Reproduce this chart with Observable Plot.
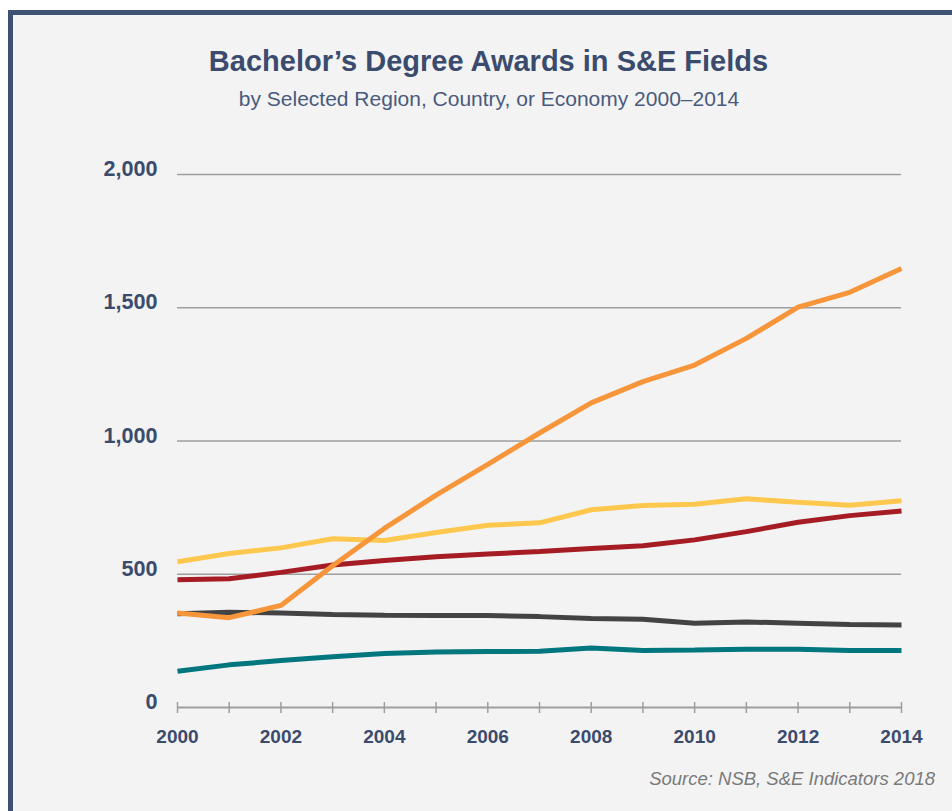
<!DOCTYPE html>
<html>
<head>
<meta charset="utf-8">
<script src="https://cdn.jsdelivr.net/npm/d3@7"></script>
<script src="https://cdn.jsdelivr.net/npm/@observablehq/plot@0.6"></script>
<style>
  html, body { margin: 0; padding: 0; background: #ffffff; width: 952px; height: 811px; overflow: hidden; font-family: "Liberation Sans", Arial, Helvetica, sans-serif; }
  #frame { position: absolute; left: 8px; top: 10px; width: 960px; height: 820px; background: #f3f3f3; border-left: 5px solid #3d5273; border-top: 5px solid #3d5273; }
  .t { position: absolute; white-space: nowrap; color: #3b4b6d; }
  #title { left: 0; width: 977px; top: 43px; text-align: center; font-weight: bold; font-size: 29px; line-height: 36px; }
  #subtitle { left: 0; width: 978px; top: 86px; text-align: center; font-size: 21px; line-height: 26px; color: #4a5a7c; }
  #source { right: 17px; top: 767px; font-style: italic; font-size: 18.5px; line-height: 24px; color: #7a7a7a; }
  #chart { position: absolute; left: 0; top: 0; }
</style>
</head>
<body>
<div id="frame"></div>
<div class="t" id="title">Bachelor’s Degree Awards in S&amp;E Fields</div>
<div class="t" id="subtitle">by Selected Region, Country, or Economy 2000–2014</div>
<div id="chart"></div>
<div class="t" id="source">Source: NSB, S&amp;E Indicators 2018</div>
<script>
// ---- data (thousands of degrees) ----
const years = [2000, 2001, 2002, 2003, 2004, 2005, 2006, 2007, 2008, 2009, 2010, 2011, 2012, 2013, 2014];
const xTickLabels = [2000, 2002, 2004, 2006, 2008, 2010, 2012, 2014];
const yTickValues = [0, 500, 1000, 1500, 2000];

const seriesNames = ["Teal", "Black", "Red", "Yellow", "Orange"];
const seriesColors = ["#00767f", "#434343", "#a51c24", "#fec84e", "#f7953b"];
const tealValues   = [136, 160, 176, 190, 203, 208, 210, 211, 223, 214, 216, 219, 219, 214, 214];
const blackValues  = [352, 357, 355, 349, 346, 345, 345, 341, 334, 331, 316, 321, 316, 311, 310];
const redValues    = [479, 483, 507, 535, 552, 566, 576, 585, 597, 607, 629, 660, 695, 720, 737];
const yellowValues = [547, 578, 599, 633, 627, 657, 684, 693, 742, 758, 763, 783, 770, 759, 776];
const orangeValues = [355, 337, 383, 532, 672, 797, 912, 1030, 1143, 1223, 1285, 1385, 1502, 1558, 1647];
const allValues = [tealValues, blackValues, redValues, yellowValues, orangeValues];

const rows = [];
seriesNames.forEach((s, i) => years.forEach((yr, j) => rows.push({series: s, year: yr, value: allValues[i][j]})));

const navy = "#3b4b6d";
const grid = "#9e9e9e";

const lineMarks = seriesNames.map((s, i) =>
  Plot.line(rows.filter(r => r.series === s), {
    x: "year", y: "value", stroke: seriesColors[i], strokeWidth: 5, strokeLinejoin: "miter", strokeLinecap: "butt"
  })
);

const chart = Plot.plot({
  width: 952,
  height: 811,
  marginTop: 174,
  marginBottom: 104,
  marginLeft: 177,
  marginRight: 51,
  style: { background: "transparent", fontFamily: "'Liberation Sans', Arial, Helvetica, sans-serif" },
  x: { domain: [2000, 2014], label: null },
  y: { domain: [0, 2000], label: null },
  marks: [
    Plot.ruleY(yTickValues.filter(v => v > 0), { stroke: grid, strokeWidth: 1.5 }),
    Plot.ruleY([0], { stroke: grid, strokeWidth: 2 }),
    Plot.axisX({ ticks: years, tickSize: 11, dy: -5, stroke: grid, strokeWidth: 1.5, tickFormat: () => "", label: null }),
    Plot.axisX({ ticks: xTickLabels, tickSize: 0, tickPadding: 21.5, tickFormat: d => String(d),
      fontSize: 19, fontWeight: "bold", fill: navy, label: null }),
    Plot.axisY({ ticks: yTickValues, tickSize: 0, tickPadding: 20, tickFormat: d3.format(","), dy: -5.4,
      fontSize: 21.6, fontWeight: "bold", fill: navy, label: null }),
    ...lineMarks
  ]
});
document.getElementById("chart").appendChild(chart);
</script>
</body>
</html>
